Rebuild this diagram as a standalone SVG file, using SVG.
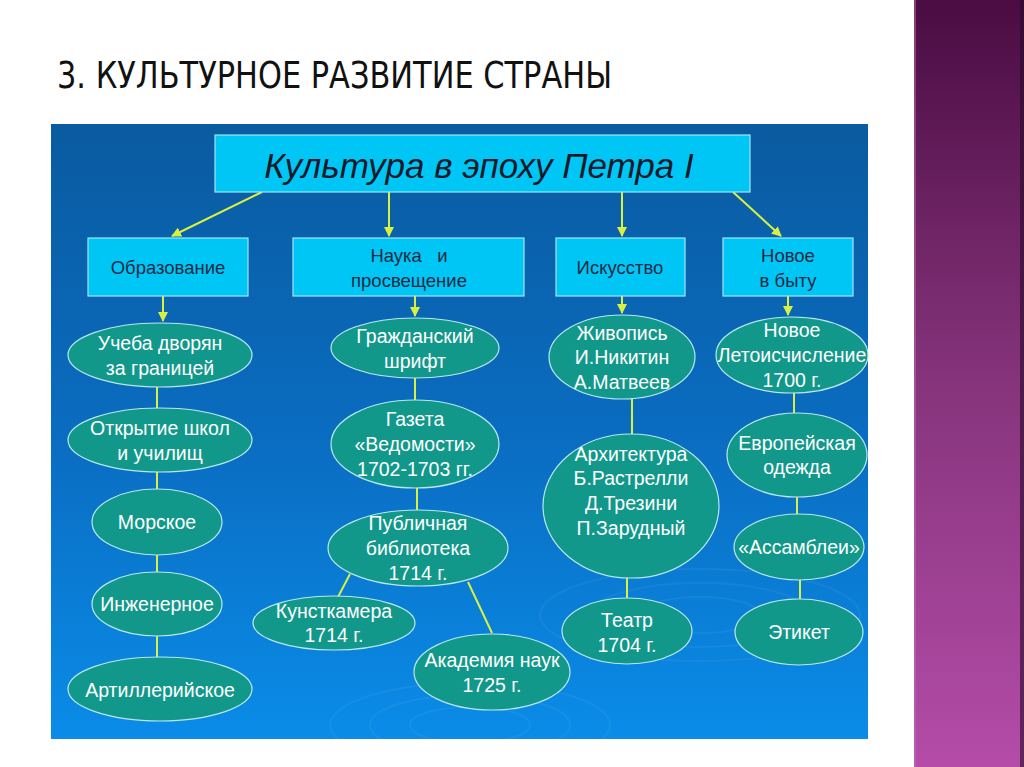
<svg xmlns="http://www.w3.org/2000/svg" width="1024" height="767" viewBox="0 0 1024 767">
<defs>
<linearGradient id="panel" x1="0" y1="0" x2="0" y2="1">
<stop offset="0" stop-color="#0a5ba0"/>
<stop offset="0.5" stop-color="#0a6cc0"/>
<stop offset="1" stop-color="#0a8ce8"/>
</linearGradient>
<linearGradient id="strip" x1="0" y1="0" x2="0" y2="1">
<stop offset="0" stop-color="#4a0c42"/>
<stop offset="0.5" stop-color="#86347c"/>
<stop offset="1" stop-color="#b44ca8"/>
</linearGradient>
<marker id="ah" viewBox="0 0 10 10" refX="9" refY="5" markerWidth="5" markerHeight="5" orient="auto">
<path d="M0,0 L10,5 L0,10 z" fill="#d8f040"/>
</marker>
<style>
.box{fill:#00c6f6;stroke:#9ee6f8;stroke-width:1.2}
.ell{fill:#12988a;stroke:#b8e8ee;stroke-width:1.2}
.bt{font-family:"Liberation Sans",Arial,sans-serif;font-size:18.5px;fill:#1b2a44;text-anchor:middle}
.et{font-family:"Liberation Sans",Arial,sans-serif;font-size:19.5px;fill:#ffffff;text-anchor:middle}
.ln{stroke:#d8f040;stroke-width:2;fill:none}
.rip{fill:none;stroke:#ffffff;stroke-opacity:0.05;stroke-width:2}
</style>
</defs>
<rect x="0" y="0" width="1024" height="767" fill="#ffffff"/>
<rect x="914" y="0" width="110" height="767" fill="url(#strip)"/>
<rect x="914" y="0" width="2" height="767" fill="#c070b8" opacity="0.5"/>
<rect x="1020" y="0" width="4" height="767" fill="#2a0a28" opacity="0.6"/>
<text x="57" y="88" font-family="'DejaVu Sans Condensed','DejaVu Sans',sans-serif" font-stretch="condensed" font-size="38" fill="#111111" textLength="555" lengthAdjust="spacingAndGlyphs">3. КУЛЬТУРНОЕ РАЗВИТИЕ СТРАНЫ</text>
<rect x="51" y="124" width="817" height="615" fill="url(#panel)"/>
<g id="ripples">
<ellipse class="rip" cx="470" cy="725" rx="60" ry="18"/>
<ellipse class="rip" cx="470" cy="725" rx="100" ry="30"/>
<ellipse class="rip" cx="470" cy="725" rx="140" ry="42"/>
<ellipse class="rip" cx="700" cy="615" rx="60" ry="18"/>
<ellipse class="rip" cx="700" cy="615" rx="110" ry="32"/>
<ellipse class="rip" cx="700" cy="615" rx="160" ry="46"/>
</g>
<g id="connectors">
<line class="ln" x1="262" y1="192" x2="172" y2="236" marker-end="url(#ah)"/>
<line class="ln" x1="389" y1="192" x2="389" y2="236" marker-end="url(#ah)"/>
<line class="ln" x1="622" y1="192" x2="622" y2="236" marker-end="url(#ah)"/>
<line class="ln" x1="733" y1="192" x2="781" y2="236" marker-end="url(#ah)"/>
<line class="ln" x1="163" y1="296" x2="163" y2="321" marker-end="url(#ah)"/>
<line class="ln" x1="415" y1="296" x2="415" y2="316" marker-end="url(#ah)"/>
<line class="ln" x1="622" y1="296" x2="622" y2="313" marker-end="url(#ah)"/>
<line class="ln" x1="788" y1="296" x2="788" y2="315" marker-end="url(#ah)"/>
<line class="ln" x1="157" y1="387" x2="157" y2="408"/>
<line class="ln" x1="157" y1="472" x2="157" y2="490"/>
<line class="ln" x1="157" y1="555" x2="157" y2="572"/>
<line class="ln" x1="157" y1="636" x2="157" y2="657"/>
<line class="ln" x1="415" y1="378" x2="415" y2="400"/>
<line class="ln" x1="417" y1="488" x2="417" y2="510"/>
<line class="ln" x1="350" y1="574" x2="338" y2="597"/>
<line class="ln" x1="468" y1="582" x2="492" y2="633"/>
<line class="ln" x1="632" y1="399" x2="632" y2="434"/>
<line class="ln" x1="627" y1="577" x2="627" y2="598"/>
<line class="ln" x1="794" y1="393" x2="794" y2="413"/>
<line class="ln" x1="797" y1="497" x2="797" y2="514"/>
<line class="ln" x1="800" y1="580" x2="800" y2="599"/>
</g>
<g id="root">
<rect class="box" x="215" y="135" width="535" height="57"/>
<text x="479" y="178" font-family="'Liberation Sans',Arial,sans-serif" font-style="italic" font-size="35" fill="#141a2a" text-anchor="middle">Культура в эпоху Петра I</text>
</g>
<g id="education">
<rect class="box" x="88" y="238" width="160" height="58"/>
<text class="bt" x="168" y="274">Образование</text>
</g>
<g id="science">
<rect class="box" x="293" y="238" width="231" height="58"/>
<text class="bt" x="409" y="262" xml:space="preserve">Наука   и</text>
<text class="bt" x="409" y="287">просвещение</text>
</g>
<g id="art">
<rect class="box" x="556" y="238" width="129" height="58"/>
<text class="bt" x="620" y="274">Искусство</text>
</g>
<g id="life">
<rect class="box" x="723" y="238" width="130" height="58"/>
<text class="bt" x="788" y="262">Новое</text>
<text class="bt" x="788" y="287">в быту</text>
</g>
<g id="e1">
<ellipse class="ell" cx="160" cy="355" rx="92" ry="32"/>
<text class="et" x="160" y="350">Учеба дворян</text>
<text class="et" x="160" y="375">за границей</text>
</g>
<g id="e2">
<ellipse class="ell" cx="160" cy="440" rx="92" ry="32"/>
<text class="et" x="160" y="435">Открытие школ</text>
<text class="et" x="160" y="460">и училищ</text>
</g>
<g id="e3">
<ellipse class="ell" cx="157" cy="522" rx="65" ry="33"/>
<text class="et" x="157" y="529">Морское</text>
</g>
<g id="e4">
<ellipse class="ell" cx="157" cy="604" rx="65" ry="32"/>
<text class="et" x="157" y="611">Инженерное</text>
</g>
<g id="e5">
<ellipse class="ell" cx="160" cy="689" rx="92" ry="32"/>
<text class="et" x="160" y="697">Артиллерийское</text>
</g>
<g id="s1">
<ellipse class="ell" cx="415" cy="348" rx="84" ry="30"/>
<text class="et" x="415" y="343">Гражданский</text>
<text class="et" x="415" y="368">шрифт</text>
</g>
<g id="s2">
<ellipse class="ell" cx="415" cy="444" rx="84" ry="44"/>
<text class="et" x="415" y="426">Газета</text>
<text class="et" x="415" y="451">«Ведомости»</text>
<text class="et" x="415" y="476">1702-1703 гг.</text>
</g>
<g id="s3">
<ellipse class="ell" cx="418" cy="548" rx="90" ry="38"/>
<text class="et" x="418" y="530">Публичная</text>
<text class="et" x="418" y="555">библиотека</text>
<text class="et" x="418" y="580">1714 г.</text>
</g>
<g id="s4">
<ellipse class="ell" cx="334" cy="623" rx="81" ry="27"/>
<text class="et" x="334" y="618">Кунсткамера</text>
<text class="et" x="334" y="642">1714 г.</text>
</g>
<g id="s5">
<ellipse class="ell" cx="492" cy="672" rx="78" ry="38"/>
<text class="et" x="492" y="667">Академия наук</text>
<text class="et" x="492" y="692">1725 г.</text>
</g>
<g id="a1">
<ellipse class="ell" cx="622" cy="357" rx="73" ry="42"/>
<text class="et" x="622" y="340">Живопись</text>
<text class="et" x="622" y="364">И.Никитин</text>
<text class="et" x="622" y="389">А.Матвеев</text>
</g>
<g id="a2">
<ellipse class="ell" cx="631" cy="506" rx="88" ry="72"/>
<text class="et" x="631" y="461">Архитектура</text>
<text class="et" x="631" y="485">Б.Растрелли</text>
<text class="et" x="631" y="510">Д.Трезини</text>
<text class="et" x="631" y="535">П.Зарудный</text>
</g>
<g id="a3">
<ellipse class="ell" cx="627" cy="631" rx="65" ry="33"/>
<text class="et" x="627" y="627">Театр</text>
<text class="et" x="627" y="652">1704 г.</text>
</g>
<g id="l1">
<ellipse class="ell" cx="792" cy="355" rx="76" ry="38"/>
<text class="et" x="792" y="337">Новое</text>
<text class="et" x="792" y="362">Летоисчисление</text>
<text class="et" x="792" y="387">1700 г.</text>
</g>
<g id="l2">
<ellipse class="ell" cx="797" cy="455" rx="70" ry="42"/>
<text class="et" x="797" y="450">Европейская</text>
<text class="et" x="797" y="474">одежда</text>
</g>
<g id="l3">
<ellipse class="ell" cx="799" cy="547" rx="65" ry="33"/>
<text class="et" x="799" y="554">«Ассамблеи»</text>
</g>
<g id="l4">
<ellipse class="ell" cx="799" cy="632" rx="64" ry="33"/>
<text class="et" x="799" y="639">Этикет</text>
</g>
</svg>
